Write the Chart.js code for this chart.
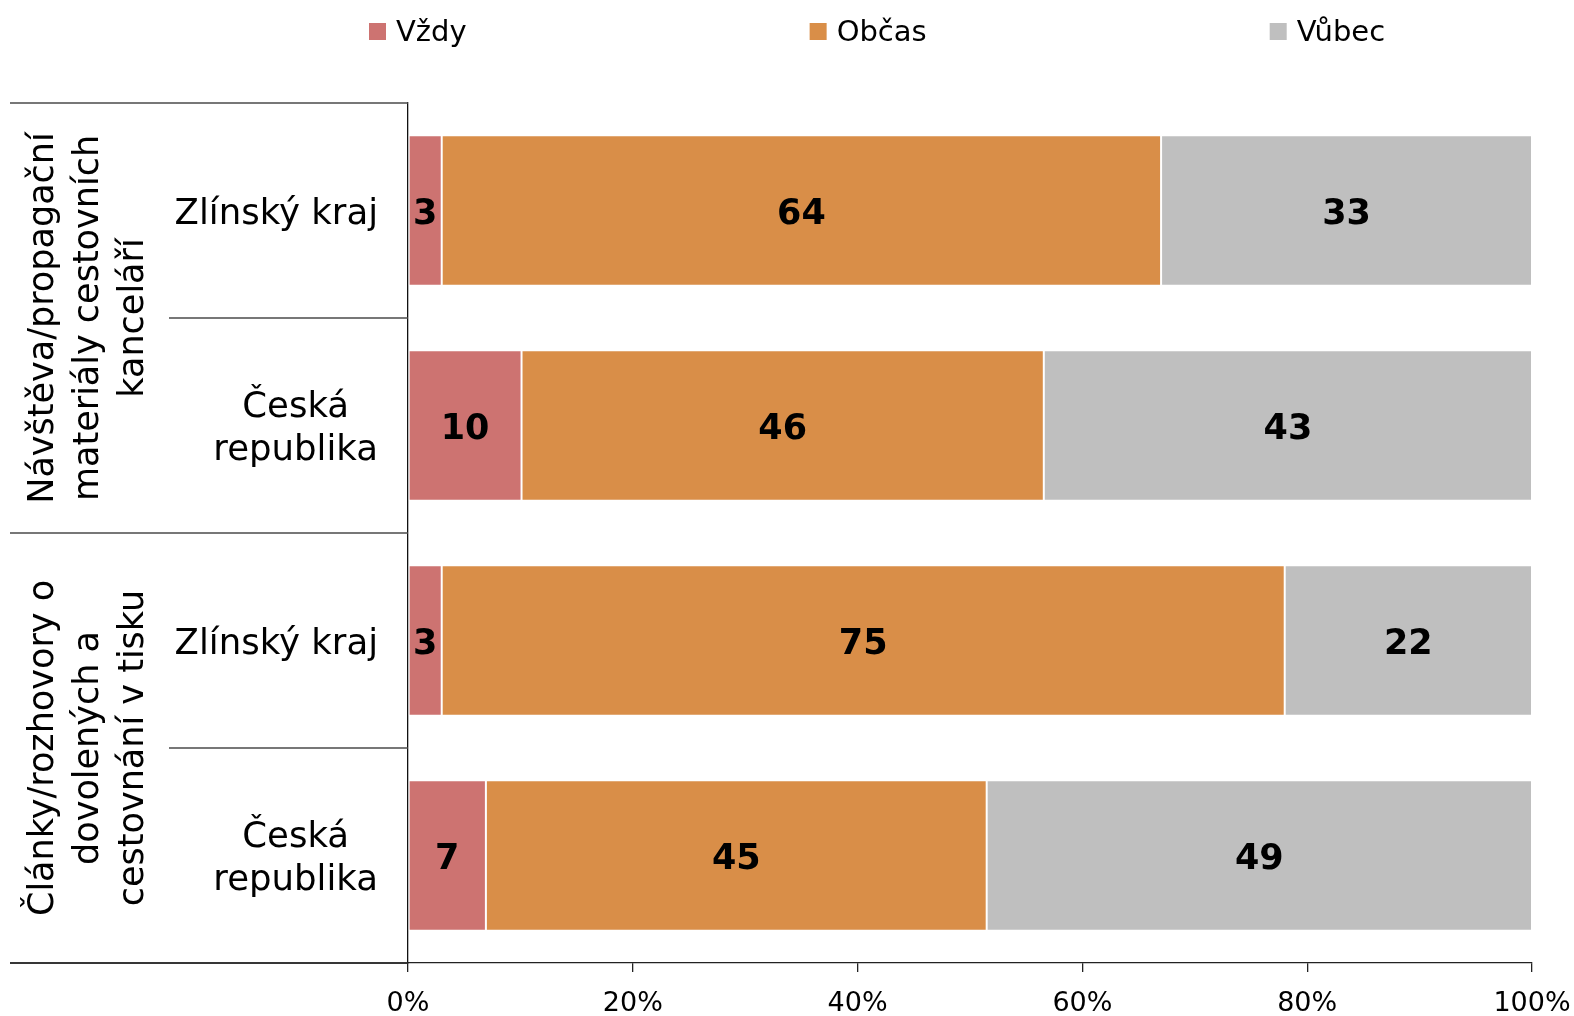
<!DOCTYPE html>
<html lang="cs">
<head>
<meta charset="utf-8">
<title>Zdroje informací o cestování</title>
<script src="https://cdn.jsdelivr.net/npm/chart.js@4/dist/chart.umd.min.js"></script>
<style>
  html, body { margin: 0; padding: 0; background: #fff; }
  #wrap { position: relative; width: 1574px; height: 1016px; }
</style>
</head>
<body>
<div id="wrap"><canvas id="chart"></canvas></div>
<script>
// kategorie (řádky grafu) a jejich skupiny
const groupLabels = [
    ['Návštěva/propagační', 'materiály cestovních', 'kanceláří'],
    ['Články/rozhovory o', 'dovolených a', 'cestovnání v tisku']
];
const rowLabels = [['Zlínský kraj'], ['Česká', 'republika'], ['Zlínský kraj'], ['Česká', 'republika']];
const rowGroup = [0, 0, 1, 1];

// odpovědi v %
const seriesNames = ['Vždy', 'Občas', 'Vůbec'];
const vzdy = [3, 10, 3, 7];
const obcas = [64, 46, 75, 45];
const vubec = [33, 43, 22, 49];
const seriesColors = ['#CD7371', '#D98E48', '#BFBFBF'];

const xTicks = [0, 20, 40, 60, 80, 100];

const FONT = '"DejaVu Sans", Verdana, sans-serif';
const series = [vzdy, obcas, vubec];

// 100% skládaný graf - každý řádek přepočítaný na součet 100
const totals = rowLabels.map((_, i) => series.reduce((s, arr) => s + arr[i], 0));

const datasets = series.map((arr, k) => ({
    label: seriesNames[k],
    data: arr.map((v, i) => v / totals[i] * 100),
    backgroundColor: seriesColors[k],
    borderColor: '#ffffff',
    borderWidth: 1,
    borderSkipped: false,
    barPercentage: 0.7,
    categoryPercentage: 1.0
}));

const framePlugin = {
    id: 'frame',
    afterDraw(chart) {
        const { ctx, chartArea: area, scales: { y } } = chart;
        const step = y.getPixelForValue(1) - y.getPixelForValue(0);
        const lineLeft = 10;
        const innerLeft = 169;

        ctx.save();

        // vodorovné oddělovače skupin a řádků vlevo od osy
        ctx.strokeStyle = '#4a4a4a';
        ctx.lineWidth = 1.3;
        const hLine = (x0, yy) => {
            ctx.beginPath();
            ctx.moveTo(x0, yy);
            ctx.lineTo(area.left, yy);
            ctx.stroke();
        };
        groupLabels.forEach((lines, g) => {
            const idx = rowGroup.map((gg, i) => gg === g ? i : -1).filter(i => i >= 0);
            const top = y.getPixelForValue(idx[0]) - step / 2;
            const bottom = y.getPixelForValue(idx[idx.length - 1]) + step / 2;
            hLine(lineLeft, top);
            if (g === groupLabels.length - 1) hLine(lineLeft, bottom);
            for (let j = 1; j < idx.length; j++) {
                hLine(innerLeft, y.getPixelForValue(idx[j]) - step / 2);
            }

            // svislý popisek skupiny
            ctx.fillStyle = '#000';
            ctx.font = '35px ' + FONT;
            ctx.textAlign = 'center';
            ctx.textBaseline = 'alphabetic';
            ctx.save();
            ctx.translate(98, (top + bottom) / 2);
            ctx.rotate(-Math.PI / 2);
            lines.forEach((t, j) => {
                ctx.fillText(t, 0, (j - (lines.length - 1) / 2) * 45);
            });
            ctx.restore();
        });

        // popisky řádků - blok zarovnaný vpravo, řádky na střed
        ctx.font = '35.5px ' + FONT;
        ctx.fillStyle = '#000';
        ctx.textAlign = 'center';
        ctx.textBaseline = 'alphabetic';
        rowLabels.forEach((lines, i) => {
            const cy = y.getPixelForValue(i);
            const widest = Math.max(...lines.map(t => ctx.measureText(t).width));
            const cx = area.left - 30 - widest / 2;
            lines.forEach((t, j) => {
                ctx.fillText(t, cx, cy + (j - (lines.length - 1) / 2) * 43 + 13);
            });
        });

        // hodnoty v pruzích
        ctx.font = 'bold 35px ' + FONT;
        chart.data.datasets.forEach((ds, k) => {
            chart.getDatasetMeta(k).data.forEach((bar, i) => {
                const p = bar.getCenterPoint();
                ctx.fillText(String(series[k][i]), p.x, p.y + 13);
            });
        });

        // legenda
        ctx.font = '29px ' + FONT;
        ctx.textAlign = 'left';
        let lx = 369;
        chart.data.datasets.forEach((ds) => {
            ctx.fillStyle = ds.backgroundColor;
            ctx.fillRect(lx, 23, 17, 17);
            ctx.fillStyle = '#000';
            ctx.fillText(ds.label, lx + 27, 41);
            lx += 27 + ctx.measureText(ds.label).width + 343;
        });

        // prodloužení spodní osy doleva
        ctx.strokeStyle = '#222';
        ctx.lineWidth = 1.3;
        ctx.beginPath();
        ctx.moveTo(lineLeft, area.bottom);
        ctx.lineTo(area.left, area.bottom);
        ctx.stroke();

        ctx.restore();
    }
};

new Chart(document.getElementById('chart'), {
    type: 'bar',
    data: { labels: rowLabels, datasets: datasets },
    options: {
        indexAxis: 'y',
        responsive: true,
        maintainAspectRatio: false,
        animation: false,
        devicePixelRatio: 1,
        layout: { padding: { top: 103, right: 42, left: 0, bottom: 0 } },
        plugins: {
            legend: { display: false },
            tooltip: { enabled: false }
        },
        scales: {
            x: {
                stacked: true,
                min: 0,
                max: 100,
                afterBuildTicks(scale) {
                    scale.ticks = xTicks.map(v => ({ value: v }));
                },
                afterFit(scale) {
                    scale.height = 53;
                    scale.paddingLeft = 0;
                    scale.paddingRight = 0;
                },
                ticks: {
                    callback: v => v + '%',
                    color: '#000',
                    font: { family: FONT, size: 27 },
                    padding: 16,
                    maxRotation: 0
                },
                grid: {
                    drawOnChartArea: false,
                    drawTicks: true,
                    tickLength: 9,
                    color: '#222',
                    lineWidth: 1.3
                },
                border: { display: true, color: '#222', width: 1.3 }
            },
            y: {
                stacked: true,
                afterFit(scale) { scale.width = 408; },
                ticks: { display: false },
                grid: { display: false },
                border: { display: true, color: '#111', width: 1.3 }
            }
        }
    },
    plugins: [framePlugin]
});
</script>
</body>
</html>
